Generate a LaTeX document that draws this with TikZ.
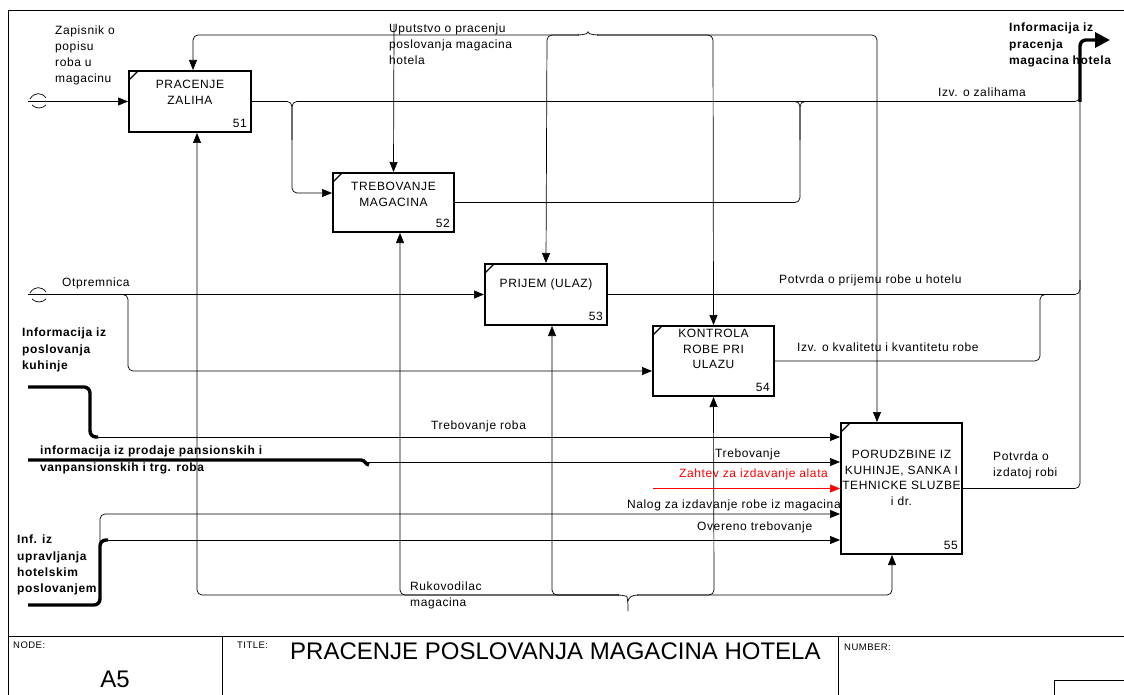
\documentclass[tikz,border=0pt]{standalone}
\usepackage{fontspec}
\setmainfont{Liberation Sans}[LetterSpace=5]
\usepackage{xcolor}
\usetikzlibrary{arrows.meta, positioning, calc}
\definecolor{alarm}{RGB}{255,0,0}

\begin{document}
\begin{tikzpicture}[x=1pt, y=-1pt,
  >={Triangle[length=10pt, width=8pt]}, font=\fontsize{12}{16}\selectfont,
  func/.style={draw, line width=2pt, inner sep=0pt,
    path picture={\draw[line width=1.2pt] ([yshift=-9pt]path picture bounding box.north west) -- ++(9pt,9pt);}},
  ftext/.style 2 args={label={[anchor=north, align=center, inner sep=0pt, yshift=-#1,
    font=\fontsize{12}{15.5}\selectfont]north:#2}},
  fnum/.style={label={[anchor=south east, inner sep=5pt]south east:#1}},
  pipe/.style={line width=0.7pt, rounded corners=5pt},
  heavy/.style={line width=3.4pt, rounded corners=6pt},
  lbl/.style={anchor=north west, align=left, inner sep=0pt},
  blbl/.style={lbl, font=\fontsize{12}{16.3}\selectfont\bfseries},
  small/.style={anchor=base west, inner sep=0pt, font=\fontsize{9.5}{10}\selectfont}]
  \useasboundingbox (0,0) rectangle (1124,695);

  % frame and title block
  \draw[line width=0.8pt] (8,695) -- (8,10) -- (1124,10);
  \draw[line width=0.8pt] (8,636) -- (1124,636) (222,636) -- (222,695)
    (838,636) -- (838,695) (1054,695) -- (1054,680) -- (1124,680);
  \node[small] (nodehdr) at (13,648) {NODE:};
  \node[anchor=base, font=\fontsize{24}{26}\selectfont\addfontfeatures{LetterSpace=0}] (nodeid) at (115,687) {A5};
  \node[small] (titlehdr) at (237,648) {TITLE:};
  \node[anchor=base west, inner sep=0pt, font=\fontsize{24}{26}\selectfont\addfontfeatures{LetterSpace=0}]
    (title) at (290,659) {PRACENJE POSLOVANJA MAGACINA HOTELA};
  \node[small] (numhdr) at (844,650) {NUMBER:};

  % activities
  \node[func, minimum width=122pt, minimum height=61pt, ftext={10pt}{PRACENJE\\ZALIHA}, fnum=51] (b51) at (190,101.5) {};
  \node[func, minimum width=121pt, minimum height=59pt, ftext={10pt}{TREBOVANJE\\MAGACINA}, fnum=52] (b52) at (393.5,202.5) {};
  \node[func, minimum width=122pt, minimum height=61pt, ftext={16pt}{PRIJEM (ULAZ)}, fnum=53] (b53) at (546,294.5) {};
  \node[func, minimum width=121pt, minimum height=70pt, ftext={4pt}{KONTROLA\\ROBE PRI\\ULAZU}, fnum=54] (b54) at (713.5,361) {};
  \node[func, minimum width=121pt, minimum height=131pt, ftext={28pt}{PORUDZBINE IZ\\KUHINJE, SANKA I\\TEHNICKE SLUZBE\\i dr.}, fnum=55] (b55) at (901.5,488.5) {};

  % arrow labels
  \node[lbl] (zapisnik) at (55,26) {Zapisnik o\\popisu\\roba u\\magacinu};
  \node[lbl] (uputstvo) at (389,24) {Uputstvo o pracenju\\poslovanja magacina\\hotela};
  \node[blbl] (izlaz) at (1009,23) {Informacija iz\\pracenja\\magacina hotela};
  \node[lbl] (zalihe) at (938,88) {Izv. o zalihama};
  \node[lbl] (otpremnica) at (62,278) {Otpremnica};
  \node[blbl] (kuhinja) at (22,328) {Informacija iz\\poslovanja\\kuhinje};
  \node[lbl] (prijem) at (779,275) {Potvrda o prijemu robe u hotelu};
  \node[lbl] (kvalitet) at (797,343) {Izv. o kvalitetu i kvantitetu robe};
  \node[lbl] (trebroba) at (431,421) {Trebovanje roba};
  \node[blbl] (prodaja) at (40,446) {informacija iz prodaje pansionskih i\\vanpansionskih i trg. roba};
  \node[lbl] (treb) at (715,449) {Trebovanje};
  \node[lbl, text=alarm] (alati) at (679,469) {Zahtev za izdavanje alata};
  \node[lbl] (nalog) at (627,500) {Nalog za izdavanje robe iz magacina};
  \node[lbl] (overeno) at (697,522) {Overeno trebovanje};
  \node[lbl] (izdato) at (993,452) {Potvrda o\\izdatoj robi};
  \node[blbl] (uprava) at (17,535) {Inf. iz\\upravljanja\\hotelskim\\poslovanjem};
  \node[lbl] (rukovodilac) at (410,582) {Rukovodilac\\magacina};

  % boundary ends
  \coordinate (in1) at (28,101.5);
  \coordinate (in2) at (28,294.5);
  \coordinate (upu) at (394,24);
  \coordinate (ctl) at (588,29);
  \coordinate (mech) at (628,611);
  \coordinate (kuh) at (28,387);
  \coordinate (prod) at (28,460);
  \coordinate (upr) at (28,605);
  \coordinate (alat) at (653,488.5);

  % tunnels
  \foreach \y in {101,295} {
    \draw[line width=0.7pt] (30,\y-2) .. controls (34,\y-9) and (42,\y-9) .. (46,\y-3);
    \draw[line width=0.7pt] (32,\y+4) .. controls (36,\y+8) and (42,\y+8) .. (46,\y+4);
  }

  % controls
  \draw[pipe] (578,35) .. controls (584,35) and (587,33) .. (ctl) .. controls (589,33) and (592,35) .. (598,35);
  \draw[pipe,->] (579,35) -- (193,35) -- ([xshift=3pt]b51.north);
  \draw[pipe,->] (579,35) -- (547,35) -- (b53.north);
  \draw[pipe,->] (597,35) -- (713,35) -- (b54.north);
  \draw[pipe,->] (597,35) -- (877,35) -- ([xshift=-24.5pt]b55.north);
  \draw[pipe,->] (upu) -- (b52.north);

  % mechanisms
  \draw[pipe] (mech) -- (628,601) .. controls (627,597) and (624,595) .. (618,595);
  \draw[pipe] (628,601) .. controls (629,597) and (632,595) .. (638,595);
  \draw[pipe,->] (619,595) -- (197,595) -- ([xshift=7pt]b51.south);
  \draw[pipe,->] (619,595) -- (400,595) -- ([xshift=6.5pt]b52.south);
  \draw[pipe,->] (619,595) -- (552,595) -- ([xshift=6pt]b53.south);
  \draw[pipe,->] (637,595) -- (714,595) -- (b54.south);
  \draw[pipe,->] (637,595) -- (892,595) -- ([xshift=-9.5pt]b55.south);

  % inputs and outputs
  \draw[pipe,->] (in1) -- (b51.west);
  \draw[pipe,->] (b51.east) -- (292,101.5) -- (292,193) -- ([yshift=9.5pt]b52.west);
  \draw[pipe] (292,140) -- (292,101.5) -- (1080,101.5) -- (1080,90);
  \draw[pipe] (b52.east) -- (800,202.5) -- (800,101.5) -- (815,101.5);
  \draw[pipe] (800,140) -- (800,101.5) -- (785,101.5);
  \draw[pipe,->] (in2) -- (b53.west);
  \draw[pipe,->] (in2) -- (128,294.5) -- (128,371) -- ([yshift=-10pt]b54.west);
  \draw[pipe] (b53.east) -- (1080,294.5) -- (1080,280);
  \draw[pipe] (b54.east) -- (1040,361) -- (1040,294.5) -- (1055,294.5);
  \draw[pipe] (b55.east) -- (1080,488.5) -- (1080,101.5);
  \draw[heavy,-{Triangle[length=15pt,width=15pt]}] (1080,102) -- (1080,40) -- (1110,40);

  \draw[heavy] (kuh) -- (90,387) -- (90,437) -- (98,437);
  \draw[pipe,->] (96,437) -- ([yshift=51.5pt]b55.west);
  \draw[line width=3.4pt] (prod) -- (361,460) .. controls (365,460) and (366,465) .. (369,465);
  \draw[pipe,->] (367,462) -- ([yshift=26.5pt]b55.west);
  \draw[pipe,->,alarm] (alat) -- (b55.west);
  \draw[heavy] (upr) -- (100,605) -- (100,540) -- (108,540);
  \draw[pipe,->] (104,540) -- ([yshift=-51.5pt]b55.west);
  \draw[pipe,->] (100,542) -- (100,514) -- ([yshift=-25.5pt]b55.west);
\end{tikzpicture}
\end{document}
